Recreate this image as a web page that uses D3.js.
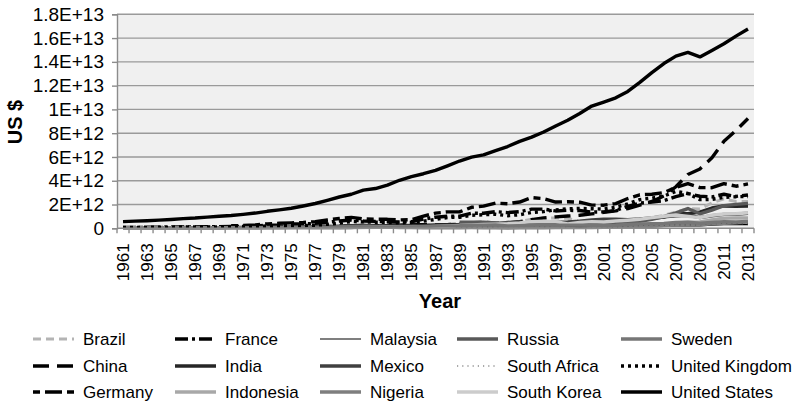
<!DOCTYPE html>
<html>
<head>
<meta charset="utf-8">
<script src="https://cdn.jsdelivr.net/npm/d3@7"></script>
<style>
  html, body { margin: 0; padding: 0; background: #fff; }
  svg { display: block; font-family: "Liberation Sans", Arial, sans-serif; }
</style>
</head>
<body>
<svg id="chart" width="801" height="410"></svg>
<script>
// GDP, current US$ (in trillions), 1961–2013
const years = d3.range(1961, 2014);

const brazil = [0.015,0.020,0.024,0.021,0.022,0.027,0.031,0.034,0.037,0.042,0.049,0.058,0.080,0.105,0.123,0.152,0.176,0.201,0.224,0.235,0.263,0.281,0.203,0.209,0.223,0.268,0.294,0.331,0.447,0.462,0.602,0.400,0.438,0.558,0.769,0.840,0.871,0.844,0.587,0.645,0.554,0.504,0.553,0.664,0.882,1.089,1.367,1.654,1.622,2.143,2.475,2.248,2.246];
const china = [0.050,0.047,0.051,0.060,0.070,0.076,0.072,0.070,0.079,0.092,0.099,0.114,0.139,0.144,0.163,0.154,0.175,0.149,0.178,0.191,0.196,0.205,0.230,0.260,0.309,0.301,0.273,0.312,0.348,0.361,0.383,0.427,0.445,0.564,0.734,0.864,0.962,1.029,1.094,1.211,1.339,1.471,1.660,1.955,2.256,2.713,3.494,4.520,4.990,5.930,7.322,8.227,9.240];
const germany = [null,null,null,null,null,null,null,null,null,0.209,0.241,0.284,0.373,0.420,0.459,0.487,0.564,0.698,0.825,0.919,0.783,0.761,0.755,0.708,0.727,1.020,1.278,1.381,1.378,1.765,1.862,2.123,2.068,2.209,2.586,2.498,2.211,2.238,2.194,1.947,1.945,2.079,2.505,2.820,2.861,3.002,3.440,3.752,3.418,3.417,3.758,3.540,3.731];
const france = [0.067,0.076,0.085,0.094,0.101,0.110,0.119,0.130,0.141,0.148,0.166,0.204,0.264,0.286,0.360,0.372,0.411,0.506,0.614,0.701,0.615,0.585,0.557,0.530,0.553,0.771,0.934,1.019,1.025,1.269,1.269,1.401,1.322,1.393,1.610,1.614,1.460,1.511,1.492,1.368,1.382,1.500,1.848,2.124,2.204,2.325,2.663,2.923,2.694,2.647,2.862,2.681,2.806];
const india = [0.039,0.042,0.048,0.056,0.059,0.046,0.050,0.053,0.058,0.062,0.067,0.071,0.085,0.099,0.098,0.102,0.121,0.137,0.152,0.186,0.193,0.201,0.218,0.212,0.232,0.248,0.279,0.296,0.296,0.327,0.274,0.293,0.284,0.333,0.367,0.400,0.423,0.429,0.467,0.477,0.494,0.524,0.618,0.722,0.834,0.949,1.239,1.224,1.365,1.708,1.880,1.859,1.877];
const indonesia = [null,null,null,null,null,null,0.006,0.008,0.010,0.010,0.010,0.011,0.016,0.025,0.030,0.037,0.045,0.051,0.051,0.072,0.085,0.090,0.081,0.085,0.085,0.080,0.075,0.084,0.094,0.106,0.116,0.128,0.158,0.177,0.202,0.227,0.216,0.095,0.140,0.165,0.160,0.196,0.235,0.257,0.286,0.365,0.432,0.510,0.540,0.709,0.846,0.877,0.868];
const malaysia = [0.002,0.002,0.002,0.002,0.003,0.003,0.003,0.003,0.003,0.004,0.004,0.005,0.007,0.009,0.009,0.010,0.012,0.015,0.019,0.025,0.025,0.027,0.030,0.034,0.031,0.028,0.032,0.035,0.038,0.044,0.049,0.059,0.066,0.074,0.089,0.101,0.100,0.072,0.079,0.094,0.093,0.101,0.110,0.125,0.144,0.163,0.194,0.231,0.202,0.255,0.298,0.314,0.313];
const mexico = [0.014,0.015,0.017,0.020,0.022,0.024,0.026,0.029,0.031,0.035,0.039,0.045,0.055,0.072,0.088,0.089,0.082,0.103,0.134,0.205,0.263,0.185,0.156,0.184,0.196,0.134,0.148,0.181,0.222,0.262,0.314,0.363,0.500,0.527,0.360,0.411,0.500,0.527,0.600,0.708,0.756,0.772,0.729,0.782,0.877,0.975,1.053,1.099,0.895,1.051,1.171,1.186,1.262];
const nigeria = [0.005,0.005,0.005,0.006,0.006,0.006,0.006,0.005,0.007,0.013,0.010,0.012,0.015,0.025,0.028,0.036,0.036,0.036,0.048,0.064,0.164,0.142,0.097,0.073,0.073,0.047,0.052,0.049,0.044,0.054,0.049,0.048,0.027,0.034,0.044,0.051,0.054,0.054,0.059,0.069,0.074,0.095,0.104,0.136,0.176,0.236,0.275,0.337,0.292,0.369,0.415,0.460,0.515];
const russia = [null,null,null,null,null,null,null,null,null,null,null,null,null,null,null,null,null,null,null,null,null,null,null,null,null,null,null,null,0.507,0.517,0.518,0.460,0.435,0.395,0.396,0.392,0.405,0.271,0.196,0.260,0.307,0.345,0.430,0.591,0.764,0.990,1.300,1.661,1.223,1.525,1.905,2.017,2.097];
const southAfrica = [0.008,0.008,0.009,0.010,0.010,0.011,0.012,0.013,0.015,0.017,0.019,0.020,0.027,0.033,0.035,0.034,0.037,0.042,0.050,0.081,0.086,0.079,0.085,0.078,0.057,0.064,0.086,0.091,0.095,0.112,0.120,0.130,0.134,0.136,0.155,0.148,0.153,0.138,0.136,0.137,0.121,0.116,0.176,0.229,0.258,0.272,0.299,0.287,0.296,0.375,0.417,0.397,0.366];
const southKorea = [0.002,0.002,0.003,0.003,0.003,0.004,0.005,0.006,0.007,0.009,0.010,0.011,0.014,0.020,0.022,0.030,0.038,0.052,0.066,0.065,0.072,0.078,0.087,0.097,0.101,0.115,0.147,0.196,0.244,0.279,0.326,0.350,0.386,0.455,0.557,0.598,0.558,0.376,0.486,0.562,0.533,0.609,0.681,0.765,0.898,1.012,1.123,1.002,0.902,1.095,1.202,1.223,1.305];
const sweden = [0.016,0.017,0.019,0.021,0.023,0.025,0.027,0.029,0.031,0.037,0.040,0.046,0.055,0.062,0.078,0.087,0.093,0.102,0.119,0.140,0.128,0.114,0.102,0.107,0.112,0.148,0.180,0.205,0.218,0.254,0.268,0.276,0.203,0.218,0.253,0.287,0.262,0.263,0.269,0.259,0.234,0.258,0.324,0.374,0.385,0.418,0.482,0.514,0.429,0.488,0.564,0.544,0.580];
const unitedKingdom = [0.077,0.081,0.086,0.094,0.101,0.108,0.112,0.107,0.117,0.131,0.148,0.170,0.193,0.206,0.242,0.232,0.263,0.336,0.438,0.565,0.540,0.515,0.489,0.461,0.489,0.601,0.745,0.910,0.926,1.093,1.142,1.179,1.061,1.140,1.335,1.405,1.553,1.641,1.666,1.648,1.623,1.771,2.053,2.416,2.538,2.713,3.100,2.923,2.411,2.431,2.609,2.650,2.678];
const unitedStates = [0.563,0.605,0.638,0.686,0.744,0.815,0.862,0.943,1.019,1.075,1.168,1.282,1.429,1.549,1.689,1.878,2.086,2.357,2.632,2.863,3.211,3.345,3.638,4.041,4.347,4.590,4.870,5.253,5.658,5.980,6.174,6.539,6.879,7.309,7.664,8.100,8.609,9.089,9.661,10.285,10.622,10.978,11.511,12.275,13.094,13.856,14.478,14.792,14.418,14.964,15.518,16.163,16.768];

const countryNames = ["Brazil","China","Germany","France","India","Indonesia","Malaysia","Mexico","Nigeria","Russia","South Africa","South Korea","Sweden","United Kingdom","United States"];
const countryValues = [brazil,china,germany,france,india,indonesia,malaysia,mexico,nigeria,russia,southAfrica,southKorea,sweden,unitedKingdom,unitedStates];

const yTicks = [0,2e12,4e12,6e12,8e12,1e13,1.2e13,1.4e13,1.6e13,1.8e13];
const yTickLabels = ["0","2E+12","4E+12","6E+12","8E+12","1E+13","1.2E+13","1.4E+13","1.6E+13","1.8E+13"];

// Stroke style for each series (grayscale print styling)
const styles = {
  "Brazil":         {color:"#b4b4b4", width:3,    dash:"8,5"},
  "China":          {color:"#000000", width:3.4,  dash:"16,8"},
  "Germany":        {color:"#000000", width:3.4,  dash:"7,5,17,5"},
  "France":         {color:"#000000", width:3.4,  dash:"13,4,3,4"},
  "India":          {color:"#262626", width:3.4,  dash:null},
  "Indonesia":      {color:"#a8a8a8", width:3.4,  dash:null},
  "Malaysia":       {color:"#000000", width:1.2,  dash:null},
  "Mexico":         {color:"#404040", width:3.4,  dash:null},
  "Nigeria":        {color:"#7e7e7e", width:3.4,  dash:null},
  "Russia":         {color:"#595959", width:3.4,  dash:null},
  "South Africa":   {color:"#555555", width:1.2,  dash:"1.2,4"},
  "South Korea":    {color:"#cccccc", width:3.4,  dash:null},
  "Sweden":         {color:"#767676", width:3.4,  dash:null},
  "United Kingdom": {color:"#000000", width:3.4,  dash:"3,4"},
  "United States":  {color:"#000000", width:3.4,  dash:null}
};

const svg = d3.select("#chart");
const plot = {left:117, right:754, top:14.3, bottom:228.3};

const x = d3.scaleBand().domain(years).range([plot.left, plot.right]).padding(0);
const y = d3.scaleLinear().domain([0, 1.8e13]).range([plot.bottom, plot.top]);

// plot background
svg.append("rect")
  .attr("x", plot.left).attr("y", plot.top)
  .attr("width", plot.right - plot.left).attr("height", plot.bottom - plot.top)
  .attr("fill", "#f0f0f0");

// horizontal gridlines
svg.append("g").selectAll("line")
  .data(yTicks.filter(d => d > 0))
  .join("line")
  .attr("x1", plot.left).attr("x2", plot.right)
  .attr("y1", d => y(d)).attr("y2", d => y(d))
  .attr("stroke", "#9a9a9a").attr("stroke-width", 1.4);

// y axis
const yAxis = svg.append("g")
  .attr("transform", `translate(${plot.left},0)`)
  .call(d3.axisLeft(y).tickValues(yTicks).tickSize(5).tickPadding(8)
        .tickFormat((d, i) => yTickLabels[i]));
yAxis.select(".domain").attr("stroke", "#8c8c8c").attr("stroke-width", 1.4);
yAxis.selectAll(".tick line").attr("stroke", "#8c8c8c").attr("stroke-width", 1.4);
yAxis.selectAll(".tick text")
  .attr("font-size", 19).attr("fill", "#000")
  .attr("font-family", "Liberation Sans, Arial, sans-serif");

// series lines
const line = d3.line()
  .defined(d => d.v !== null)
  .x(d => x(d.year) + x.bandwidth() / 2)
  .y(d => y(d.v * 1e12));

const series = countryNames.map((name, i) => ({
  name,
  points: years.map((yr, j) => ({year: yr, v: countryValues[i][j]}))
}));

svg.append("g").selectAll("path")
  .data(series)
  .join("path")
  .attr("d", d => line(d.points))
  .attr("fill", "none")
  .attr("stroke", d => styles[d.name].color)
  .attr("stroke-width", d => styles[d.name].width)
  .attr("stroke-dasharray", d => styles[d.name].dash)
  .attr("stroke-linejoin", "round");

// x axis: ticks between categories, labels every other year
const xAxisG = svg.append("g").attr("transform", `translate(0,${plot.bottom})`);
xAxisG.append("line")
  .attr("x1", plot.left).attr("x2", plot.right)
  .attr("stroke", "#8c8c8c").attr("stroke-width", 1.4);
xAxisG.selectAll("line.tick")
  .data(years.concat([2014]))
  .join("line")
  .attr("class", "tick")
  .attr("x1", d => d === 2014 ? plot.right : x(d))
  .attr("x2", d => d === 2014 ? plot.right : x(d))
  .attr("y1", 0).attr("y2", 5)
  .attr("stroke", "#8c8c8c").attr("stroke-width", 1.4);
xAxisG.selectAll("text")
  .data(years.filter((d, i) => i % 2 === 0))
  .join("text")
  .attr("transform", d => `translate(${x(d) + x.bandwidth() / 2 + 6},15) rotate(-90)`)
  .attr("text-anchor", "end")
  .attr("font-size", 17)
  .text(d => d);

// axis titles
svg.append("text")
  .attr("transform", "translate(22,122) rotate(-90)")
  .attr("text-anchor", "middle")
  .attr("font-size", 20).attr("font-weight", "bold")
  .text("US $");
svg.append("text")
  .attr("x", 440).attr("y", 308)
  .attr("text-anchor", "middle")
  .attr("font-size", 20).attr("font-weight", "bold")
  .text("Year");

// legend, column-major in 5 columns of 3
const legendCols = [33, 175, 320, 457, 621];
const legendRows = [339, 366, 392];
const legend = svg.append("g").selectAll("g")
  .data(countryNames)
  .join("g")
  .attr("transform", (d, i) => `translate(${legendCols[Math.floor(i / 3)]},${legendRows[i % 3]})`);
legend.append("line")
  .attr("x1", 0).attr("x2", 41).attr("y1", 0).attr("y2", 0)
  .attr("stroke", d => styles[d].color)
  .attr("stroke-width", d => styles[d].width)
  .attr("stroke-dasharray", d => styles[d].dash);
legend.append("text")
  .attr("x", 50).attr("y", 6)
  .attr("font-size", 17)
  .text(d => d);
</script>
</body>
</html>
